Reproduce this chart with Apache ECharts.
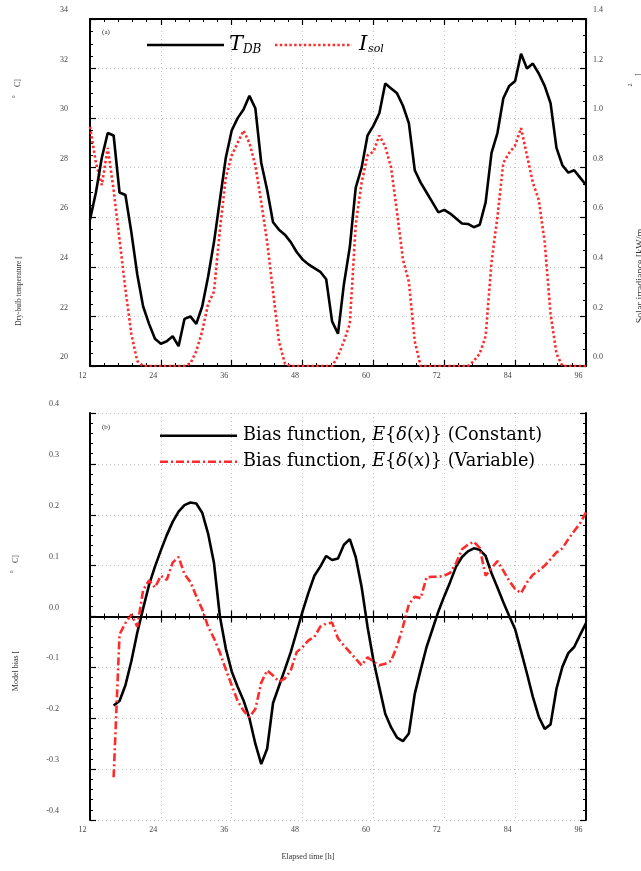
<!DOCTYPE html>
<html>
<head>
<meta charset="utf-8">
<script src="https://cdn.jsdelivr.net/npm/echarts@6/dist/echarts.min.js"></script>
<style>
html,body{margin:0;padding:0;background:#fff;}
#chart{width:641px;height:871px;}
</style>
</head>
<body>
<div id="chart"></div>
<script>
// ---------- DATA ----------
const hoursTop = [12,13,14,15,16,17,18,19,20,21,22,23,24,25,26,27,28,29,30,31,32,33,34,35,36,37,38,39,40,41,42,43,44,45,46,47,48,49,50,51,52,53,54,55,56,57,58,59,60,61,62,63,64,65,66,67,68,69,70,71,72,73,74,75,76,77,78,79,80,81,82,83,84,85,86,87,88,89,90,91,92,93,94,95,96];
const tempDB = [25.9,27.0,28.4,29.4,29.3,27.0,26.9,25.4,23.7,22.4,21.7,21.1,20.9,21.0,21.2,20.8,21.9,22.0,21.7,22.4,23.6,25.0,26.7,28.4,29.5,30.0,30.35,30.9,30.4,28.2,27.1,25.8,25.5,25.3,25.0,24.6,24.3,24.1,23.95,23.8,23.5,21.8,21.3,23.3,24.8,27.2,28.0,29.3,29.7,30.2,31.4,31.2,31.0,30.5,29.8,27.9,27.4,27.0,26.6,26.2,26.3,26.15,25.95,25.75,25.73,25.6,25.7,26.6,28.6,29.4,30.8,31.3,31.5,32.6,32.0,32.2,31.8,31.3,30.6,28.8,28.1,27.8,27.9,27.6,27.3];
const solarIrr = [0.965,0.82,0.73,0.88,0.71,0.51,0.31,0.13,0.02,0,0,0,0,0,0,0,0,0.01,0.06,0.14,0.25,0.30,0.55,0.76,0.85,0.90,0.95,0.90,0.81,0.66,0.50,0.30,0.10,0.01,0,0,0,0,0,0,0,0,0.04,0.10,0.17,0.57,0.74,0.85,0.865,0.93,0.885,0.80,0.62,0.43,0.34,0.10,0,0,0,0,0,0,0,0,0,0.02,0.05,0.12,0.42,0.60,0.82,0.86,0.89,0.96,0.85,0.74,0.67,0.50,0.21,0.05,0,0,0,0,0];
const hoursBias = [16,17,18,19,20,21,22,23,24,25,26,27,28,29,30,31,32,33,34,35,36,37,38,39,40,41,42,43,44,45,46,47,48,49,50,51,52,53,54,55,56,57,58,59,60,61,62,63,64,65,66,67,68,69,70,71,72,73,74,75,76,77,78,79,80,81,82,83,84,85,86,87,88,89,90,91,92,93,94,95,96];
const biasConstant = [-0.175,-0.166,-0.135,-0.088,-0.032,0.016,0.062,0.098,0.130,0.160,
 0.186,0.206,0.219,0.224,0.222,0.204,0.163,0.105,0.000,-0.063,
 -0.108,-0.138,-0.165,-0.200,-0.250,-0.290,-0.260,-0.170,-0.137,-0.104,
 -0.070,-0.030,0.010,0.047,0.080,0.098,0.119,0.111,0.114,0.141,
 0.152,0.117,0.058,-0.020,-0.086,-0.139,-0.191,-0.218,-0.238,-0.245,
 -0.230,-0.152,-0.105,-0.060,-0.025,0.010,0.040,0.068,0.098,0.117,
 0.128,0.134,0.131,0.119,0.085,0.057,0.028,0.001,-0.025,-0.068,
 -0.112,-0.158,-0.197,-0.221,-0.212,-0.142,-0.099,-0.072,-0.060,-0.036,
 -0.013];
const biasVariable = [-0.316,-0.035,-0.013,0.004,-0.020,0.052,0.071,0.057,0.080,0.072,
 0.106,0.117,0.083,0.068,0.040,0.014,-0.020,-0.043,-0.071,-0.104,
 -0.135,-0.166,-0.185,-0.198,-0.182,-0.130,-0.106,-0.116,-0.128,-0.122,
 -0.106,-0.070,-0.060,-0.047,-0.040,-0.020,-0.014,-0.012,-0.043,-0.057,
 -0.070,-0.083,-0.096,-0.080,-0.089,-0.096,-0.093,-0.087,-0.058,-0.020,
 0.024,0.039,0.036,0.077,0.078,0.078,0.080,0.086,0.105,0.132,
 0.141,0.147,0.135,0.080,0.095,0.109,0.090,0.070,0.054,0.046,
 0.067,0.082,0.090,0.100,0.113,0.126,0.134,0.152,0.168,0.183,
 0.205];
const zeroLine = 0;

// ---------- STYLE ----------
const SERIF = "'Liberation Serif', 'DejaVu Serif', serif";
const MATH = "'DejaVu Serif', serif";
const RED = '#ff2b2b';
const lblColor = '#444';
const DOTS = [2.4,2.4];
const DASHDOT = [8,3,2,3];

function pairs(xs, ys){ return xs.map((x,i)=>[x, ys[i]]); }

const axisLineS = {show:true, lineStyle:{color:'#000', width:2}};
const tickS = {show:true, inside:true, length:6, lineStyle:{color:'#000', width:1.2}};
const gridLineS = {show:true, lineStyle:{color:'#c4c4c4', width:1, type:[1,3]}};

function xAxisMain(gi){
  return {type:'value', gridIndex:gi, position:'bottom', min:12, max:96, interval:12,
    axisLine:axisLineS, axisTick:tickS,
    minorTick:{show:true, splitNumber:5, length:3, lineStyle:{color:'#000', width:1}},
    splitLine:gridLineS,
    axisLabel:{show:true, margin:6, fontSize:8, fontFamily:SERIF, color:lblColor, padding:[0,15,0,0],
      showMinLabel:true, showMaxLabel:true}};
}
function xAxisMirror(gi){
  return {type:'value', gridIndex:gi, position:'top', min:12, max:96, interval:12,
    axisLine:axisLineS, axisTick:tickS,
    minorTick:{show:true, splitNumber:5, length:3, lineStyle:{color:'#000', width:1}},
    splitLine:{show:false}, axisLabel:{show:false}};
}
function txt(x, y, text, font, extra){
  return Object.assign({type:'text', x:x, y:y, z:100,
    style:{text:text, font:font, fill:'#333', align:'center', verticalAlign:'middle'}}, extra||{});
}
function mathTxt(x, y, text, size, italic){
  return {type:'text', x:x, y:y, z:100,
    style:{text:text, font:(italic?'italic ':'')+size+'px '+MATH, fill:'#000', align:'left', verticalAlign:'middle'}};
}
function legLine(x1, x2, y, color, dash){
  return {type:'line', z:100, shape:{x1:x1, y1:y, x2:x2, y2:y},
    style:{stroke:color, lineWidth:2.6, lineDash:dash||null}};
}

const biasFont = 17.7;
function biasLabel(x, y, kind){
  // "Bias function, E{δ(x)} (kind)"
  return {type:'text', x:x, y:y, z:100,
    style:{text:'Bias function, {i|E}{{i|δ}({i|x})} (' + kind + ')',
      font:biasFont+'px '+MATH, fill:'#000', align:'left', verticalAlign:'middle',
      rich:{i:{fontFamily:MATH, fontStyle:'italic', fontSize:biasFont, fill:'#000'}}}};
}

const option = {
  animation:false,
  backgroundColor:'#fff',
  grid:[
    {left:90, top:19, width:496, height:347, containLabel:false},
    {left:90, top:413, width:496, height:407, containLabel:false}
  ],
  xAxis:[ xAxisMain(0), xAxisMirror(0), xAxisMain(1), xAxisMirror(1) ],
  yAxis:[
    {type:'value', gridIndex:0, position:'left', min:20, max:34, interval:2,
      axisLine:axisLineS, axisTick:tickS,
      minorTick:{show:true, splitNumber:4, length:3, lineStyle:{color:'#000', width:1}},
      splitLine:gridLineS,
      axisLabel:{margin:22, fontSize:8, fontFamily:SERIF, color:lblColor, verticalAlign:'bottom', padding:[0,0,5,0], showMinLabel:true, showMaxLabel:true}},
    {type:'value', gridIndex:0, position:'right', min:0, max:1.4, interval:0.2,
      axisLine:axisLineS, axisTick:tickS,
      minorTick:{show:true, splitNumber:3, length:3, lineStyle:{color:'#000', width:1}},
      splitLine:{show:false},
      axisLabel:{margin:7, fontSize:8, fontFamily:SERIF, color:lblColor, verticalAlign:'bottom', padding:[0,0,5,0],
        formatter:v=>v.toFixed(1), showMinLabel:true, showMaxLabel:true}},
    {type:'value', gridIndex:1, position:'left', min:-0.4, max:0.4, interval:0.1,
      axisLine:axisLineS, axisTick:tickS,
      minorTick:{show:true, splitNumber:5, length:3, lineStyle:{color:'#000', width:1}},
      splitLine:gridLineS,
      axisLabel:{margin:31, fontSize:8, fontFamily:SERIF, color:lblColor, verticalAlign:'bottom', padding:[0,0,5,0],
        formatter:v=>v.toFixed(1), showMinLabel:true, showMaxLabel:true}},
    {type:'value', gridIndex:1, position:'right', min:-0.4, max:0.4, interval:0.1,
      axisLine:axisLineS, axisTick:tickS,
      minorTick:{show:true, splitNumber:5, length:3, lineStyle:{color:'#000', width:1}},
      splitLine:{show:false}, axisLabel:{show:false}}
  ],
  series:[
    {name:'T_DB', type:'line', xAxisIndex:0, yAxisIndex:0, data:pairs(hoursTop, tempDB),
      showSymbol:false, symbol:'none', lineStyle:{color:'#000', width:2.6}, itemStyle:{color:'#000'}, z:3},
    {name:'I_sol', type:'line', xAxisIndex:0, yAxisIndex:1, data:pairs(hoursTop, solarIrr),
      showSymbol:false, symbol:'none', lineStyle:{color:RED, width:2.6, type:DOTS}, itemStyle:{color:RED}, z:2},
    {name:'Constant', type:'line', xAxisIndex:2, yAxisIndex:2, data:pairs(hoursBias, biasConstant),
      showSymbol:false, symbol:'none', lineStyle:{color:'#000', width:2.6}, itemStyle:{color:'#000'}, z:3,
      markLine:{silent:true, symbol:'none', label:{show:false},
        lineStyle:{color:'#000', width:1.2, type:[1.5,2]}, data:[{yAxis:zeroLine}]}},
    {name:'Variable', type:'line', xAxisIndex:2, yAxisIndex:2, data:pairs(hoursBias, biasVariable),
      showSymbol:false, symbol:'none', lineStyle:{color:RED, width:2.6, type:DASHDOT}, itemStyle:{color:RED}, z:4}
  ],
  graphic:[
    // legend (a)
    legLine(147, 224, 45, '#000'),
    mathTxt(229, 44.5, 'T', 21, true),
    mathTxt(243, 49.5, 'DB', 12, true),
    legLine(275, 352, 45, RED, DOTS),
    mathTxt(359, 44.5, 'I', 21, true),
    mathTxt(368, 49.5, 'sol', 11, true),
    // legend (b)
    legLine(160, 237, 435.7, '#000'),
    biasLabel(243, 435.5, 'Constant'),
    legLine(160, 237, 461.7, RED, DASHDOT),
    biasLabel(243, 461.5, 'Variable'),
    // panel tags and axis titles
    txt(106, 32.5, '(a)', "7px 'Liberation Serif'"),
    txt(106, 427, '(b)', "7px 'Liberation Serif'"),
    txt(19, 291, 'Dry-bulb temperature [', "7.5px 'Liberation Serif'", {rotation:Math.PI/2}),
    txt(18, 83, 'C]', "8px 'Liberation Serif'", {rotation:Math.PI/2}),
    txt(16, 97, '°', "8px 'Liberation Serif'", {rotation:Math.PI/2}),
    txt(16, 671, 'Model bias [', "8px 'Liberation Serif'", {rotation:Math.PI/2}),
    txt(16, 559, 'C]', "8px 'Liberation Serif'", {rotation:Math.PI/2}),
    txt(14, 572, '°', "8px 'Liberation Serif'", {rotation:Math.PI/2}),
    txt(640, 276, 'Solar irradiance [kW/m', "10px 'Liberation Serif'", {rotation:Math.PI/2}),
    txt(630, 85, '2', "6px 'Liberation Serif'", {rotation:Math.PI/2}),
    txt(639, 75, ']', "8px 'Liberation Serif'", {rotation:Math.PI/2}),
    txt(308, 857, 'Elapsed time [h]', "8px 'Liberation Serif'")
  ]
};

const chart = echarts.init(document.getElementById('chart'), null, {renderer:'canvas'});
chart.setOption(option);
</script>
</body>
</html>
